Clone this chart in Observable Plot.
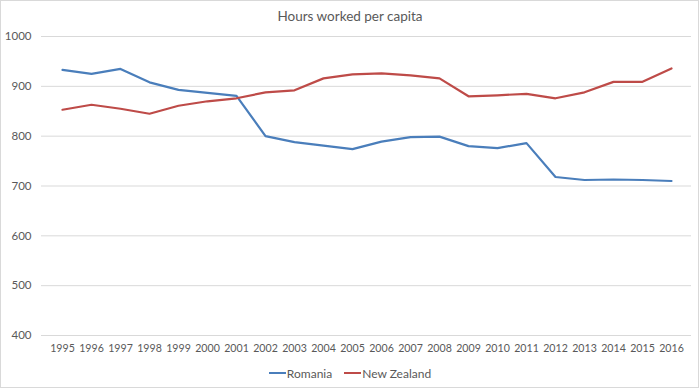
<!DOCTYPE html>
<html>
<head>
<meta charset="utf-8">
<script src="https://cdn.jsdelivr.net/npm/d3@7"></script>
<script src="https://cdn.jsdelivr.net/npm/@observablehq/plot@0.6"></script>
<style>
  html, body { margin: 0; padding: 0; background: #fff; }
  #wrap { position: relative; width: 700px; height: 392px; font-family: Lato, "Open Sans", sans-serif; color: #595959; overflow: hidden; }
  #frame { position: absolute; left: 0; top: 0; width: 699px; height: 388px; box-sizing: border-box; border: 1px solid #d9d9d9; }
  #title { position: absolute; left: 0; top: 0; width: 700px; height: 33px; line-height: 33px; text-align: center; font-size: 13.5px; }
  #chart { position: absolute; left: 0; top: 30px; }
  #legend { position: absolute; left: 0; top: 364px; width: 700px; height: 18px; display: flex; justify-content: center; align-items: center; font-size: 12px; }
  .item { display: flex; align-items: center; margin: 0 6px; }
  .swatch { width: 17px; height: 2px; margin-right: 1px; }
</style>
</head>
<body>
<div id="wrap">
  <div id="frame"></div>
  <div id="title">Hours worked per capita</div>
  <div id="chart"></div>
  <div id="legend"></div>
</div>
<script>
const years = ["1995","1996","1997","1998","1999","2000","2001","2002","2003","2004","2005","2006","2007","2008","2009","2010","2011","2012","2013","2014","2015","2016"];
const romania = [933, 925, 935, 908, 893, 887, 881, 800, 788, 781, 774, 789, 798, 799, 780, 776, 786, 718, 712, 713, 712, 710];
const newZealand = [853, 863, 855, 845, 861, 870, 876, 888, 892, 916, 924, 926, 922, 916, 880, 882, 885, 876, 888, 909, 909, 936];
const yTicks = [400, 500, 600, 700, 800, 900, 1000];
const seriesNames = ["Romania", "New Zealand"];
const seriesColors = ["#4A7EBB", "#BE4B48"];

const data = [];
years.forEach((y, i) => {
  data.push({year: y, value: romania[i], series: seriesNames[0]});
  data.push({year: y, value: newZealand[i], series: seriesNames[1]});
});

const plot = Plot.plot({
  width: 700,
  height: 330,
  marginLeft: 41,
  marginRight: 9,
  marginTop: 6,
  marginBottom: 25,
  style: {fontFamily: "Lato, 'Open Sans', sans-serif", fontSize: "11px", color: "#595959", background: "transparent"},
  x: {type: "point", domain: years, padding: 0.5, label: null},
  y: {domain: [400, 1000], label: null},
  color: {domain: seriesNames, range: seriesColors},
  marks: [
    Plot.gridY(yTicks, {stroke: "#d9d9d9", strokeOpacity: 1, strokeWidth: 1}),
    Plot.axisY(yTicks, {tickSize: 0, tickPadding: 10, fill: "#595959", fontSize: 11.5, tickFormat: d => String(d), label: null}),
    Plot.axisX(years, {tickSize: 0, tickPadding: 9, fill: "#595959", fontSize: 10.6, label: null}),
    Plot.line(data, {x: "year", y: "value", z: "series", stroke: "series", strokeWidth: 2.2, strokeLinejoin: "round", strokeLinecap: "round"})
  ]
});
document.getElementById("chart").appendChild(plot);

const legend = document.getElementById("legend");
seriesNames.forEach((name, i) => {
  const item = document.createElement("div");
  item.className = "item";
  const sw = document.createElement("div");
  sw.className = "swatch";
  sw.style.background = seriesColors[i];
  const label = document.createElement("span");
  label.textContent = name;
  item.appendChild(sw);
  item.appendChild(label);
  legend.appendChild(item);
});
</script>
</body>
</html>
